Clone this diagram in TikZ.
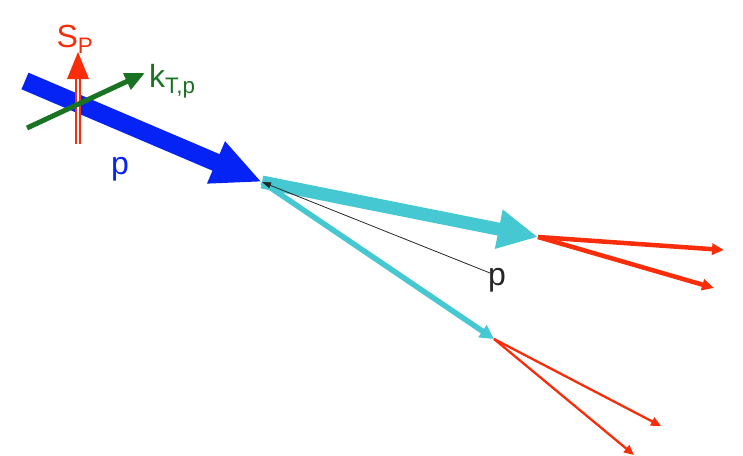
\documentclass[tikz,border=0pt]{standalone}
\usepackage{fontspec}
\setmainfont{Liberation Sans}
\usetikzlibrary{arrows.meta}
\definecolor{pblue}{RGB}{5,35,245}
\definecolor{pcyan}{RGB}{70,200,210}
\definecolor{pred}{RGB}{250,45,10}
\definecolor{pgreen}{RGB}{25,115,35}
\begin{document}
\begin{tikzpicture}[x=1pt,y=-1pt,
  lbl/.style={inner sep=0pt, font=\fontsize{32}{34}\selectfont},
  redjet/.style={pred, line width=#1, -{Triangle[length=12pt,width=11pt]}}]
\useasboundingbox (0,0) rectangle (743,455);
% coordinates
\coordinate (bt) at (25,81);
\coordinate (v) at (262,182);
\coordinate (ct) at (538,237);
\coordinate (c2) at (494,339);
\coordinate (sb) at (78,144);
\coordinate (st) at (78,76);
\coordinate (gb) at (27,128);
\coordinate (gt) at (145,73);
\coordinate (bp) at (490,273);
\coordinate (r1) at (724,250);
\coordinate (r2) at (714,288);
\coordinate (r3) at (661,426);
\coordinate (r4) at (634,455);
% blue proton
\draw[pblue, line width=18pt, -{Triangle[length=50pt,width=42pt]}] (bt) -- (v);
% spin
\draw[pred, line width=1.8pt, double=white, double distance=2.2pt] (sb) -- (st);
\fill[pred] (67,79) -- (89,79) -- (78,52) -- cycle;
% kT
\draw[pgreen, line width=5pt, -{Triangle[length=20pt,width=17pt]}] (gb) -- (gt);
% cyan jets
\draw[pcyan, line width=13pt, -{Triangle[length=40pt,width=37pt]}] (v) -- (ct);
\draw[pcyan, line width=5.5pt, -{Triangle[length=14pt,width=14pt]}] (v) -- (c2);
% black p
\draw[black!85, line width=0.8pt, -{Triangle[length=9pt,width=6pt]}] (bp) -- (v);
% red fragments
\draw[redjet=4.5pt] (ct) -- (r1);
\draw[redjet=4.5pt] (ct) -- (r2);
\draw[pred, line width=2.3pt, -{Triangle[length=10pt,width=9pt]}] (c2) -- (r3);
\draw[pred, line width=2.3pt, -{Triangle[length=10pt,width=9pt]}] (c2) -- (r4);
% labels
\node[lbl, pred, anchor=base] (sp) at (75,47) {S\textsubscript{P}};
\node[lbl, pgreen, anchor=base west] (kt) at (149,87) {k\textsubscript{T,p}};
\node[lbl, pblue, anchor=base] (pl) at (120,174) {p};
\node[lbl, black!85, anchor=base west] (pb) at (488,285) {p};
\end{tikzpicture}
\end{document}
